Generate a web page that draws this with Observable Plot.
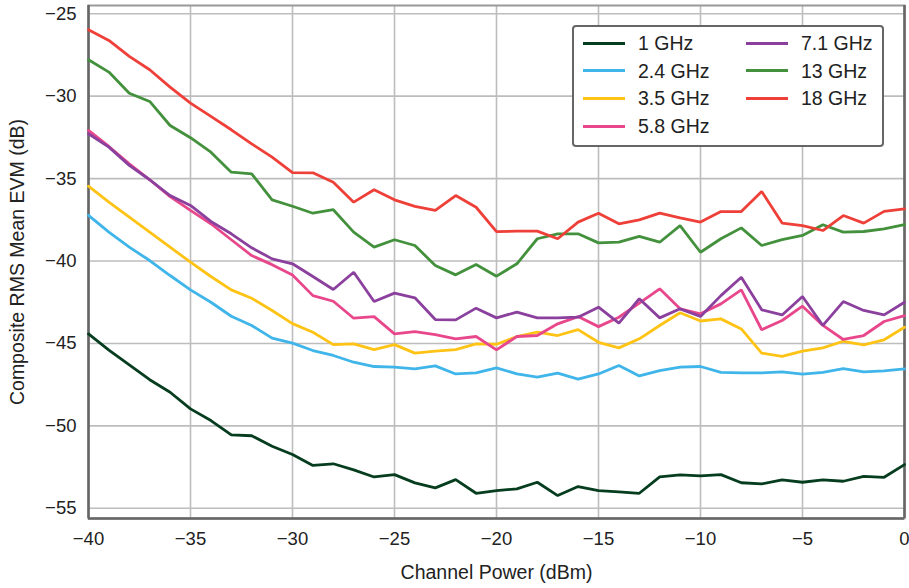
<!DOCTYPE html>
<html><head><meta charset="utf-8">
<script src="https://cdn.jsdelivr.net/npm/d3@7"></script>
<script src="https://cdn.jsdelivr.net/npm/@observablehq/plot@0.6"></script>
<style>
body{margin:0;background:#fff;font-family:"Liberation Sans",Arial,sans-serif;}
#wrap{position:relative;width:909px;height:588px;}
#wrap svg{overflow:visible;}
#legend{position:absolute;left:572px;top:25px;width:312px;height:122px;border:2px solid #666;border-radius:4px;background:#fff;box-sizing:border-box;}
.item{position:absolute;height:20px;font-size:19.5px;color:#222;line-height:20px;white-space:nowrap;}
.sw{position:absolute;left:0;top:8.5px;width:42px;height:3px;}
.lb{position:absolute;left:55px;top:0;}
g[aria-label="x-axis label"], g[aria-label="y-axis label"]{font-size:19.5px;}
</style></head>
<body><div id="wrap"><div id="legend"></div></div>
<script>
const xs = [-40,-39,-38,-37,-36,-35,-34,-33,-32,-31,-30,-29,-28,-27,-26,-25,-24,-23,-22,-21,-20,-19,-18,-17,-16,-15,-14,-13,-12,-11,-10,-9,-8,-7,-6,-5,-4,-3,-2,-1,0];
const names = ["1 GHz","2.4 GHz","3.5 GHz","5.8 GHz","7.1 GHz","13 GHz","18 GHz"];
const colors = ["#063d1f","#3fb5ea","#fec315","#e8478c","#8b409e","#43913c","#ee4039"];
const g1 = [-44.42,-45.4,-46.3,-47.2,-47.96,-48.97,-49.68,-50.55,-50.6,-51.24,-51.74,-52.4,-52.3,-52.67,-53.1,-52.96,-53.46,-53.76,-53.26,-54.09,-53.93,-53.82,-53.42,-54.23,-53.68,-53.93,-54.0,-54.09,-53.1,-52.97,-53.03,-52.96,-53.45,-53.52,-53.28,-53.42,-53.28,-53.36,-53.06,-53.12,-52.35];
const g24 = [-37.23,-38.25,-39.16,-39.97,-40.88,-41.75,-42.5,-43.35,-43.91,-44.68,-44.98,-45.43,-45.73,-46.14,-46.4,-46.44,-46.54,-46.36,-46.85,-46.79,-46.48,-46.85,-47.05,-46.8,-47.17,-46.85,-46.34,-46.97,-46.65,-46.44,-46.4,-46.75,-46.79,-46.79,-46.72,-46.86,-46.75,-46.53,-46.72,-46.66,-46.54];
const g35 = [-35.46,-36.43,-37.34,-38.25,-39.16,-40.07,-40.94,-41.75,-42.26,-43.0,-43.8,-44.32,-45.07,-45.03,-45.37,-45.07,-45.59,-45.47,-45.37,-45.03,-45.05,-44.58,-44.32,-44.52,-44.16,-44.93,-45.27,-44.72,-43.91,-43.14,-43.64,-43.51,-44.12,-45.59,-45.78,-45.47,-45.27,-44.87,-45.09,-44.78,-44.02];
const g58 = [-32.08,-33.05,-34.1,-35.07,-36.09,-36.93,-37.74,-38.71,-39.67,-40.22,-40.85,-42.1,-42.44,-43.47,-43.37,-44.42,-44.28,-44.46,-44.72,-44.58,-45.39,-44.58,-44.52,-43.81,-43.37,-43.98,-43.41,-42.56,-41.69,-42.9,-43.2,-42.6,-41.75,-44.17,-43.61,-42.74,-43.91,-44.76,-44.52,-43.67,-43.31];
const g71 = [-32.28,-33.09,-34.2,-35.07,-36.03,-36.63,-37.6,-38.35,-39.2,-39.87,-40.17,-40.94,-41.73,-40.68,-42.46,-41.95,-42.23,-43.55,-43.57,-42.86,-43.45,-43.1,-43.45,-43.45,-43.41,-42.8,-43.77,-42.29,-43.45,-42.9,-43.36,-42.1,-40.98,-42.96,-43.27,-42.15,-43.91,-42.46,-43.0,-43.27,-42.5];
const g13 = [-27.79,-28.54,-29.82,-30.32,-31.78,-32.52,-33.4,-34.61,-34.71,-36.29,-36.68,-37.1,-36.89,-38.25,-39.16,-38.71,-39.06,-40.27,-40.84,-40.21,-40.92,-40.17,-38.65,-38.35,-38.35,-38.9,-38.86,-38.5,-38.86,-37.85,-39.47,-38.65,-37.99,-39.06,-38.7,-38.45,-37.8,-38.25,-38.21,-38.05,-37.8];
const g18 = [-25.97,-26.62,-27.59,-28.4,-29.45,-30.42,-31.23,-32.04,-32.89,-33.7,-34.64,-34.65,-35.22,-36.43,-35.68,-36.29,-36.69,-36.93,-36.03,-36.74,-38.22,-38.19,-38.19,-38.65,-37.64,-37.1,-37.74,-37.5,-37.1,-37.38,-37.64,-37.0,-37.0,-35.78,-37.7,-37.85,-38.15,-37.24,-37.7,-36.99,-36.84];
const xTicks = [-40,-35,-30,-25,-20,-15,-10,-5,0];
const yTicks = [-55,-50,-45,-40,-35,-30,-25];
const xDomain = [-40, 0];
const yDomain = [-55.62, -24.5];

const seriesVals = [g1,g24,g35,g58,g71,g13,g18];
const data = [];
seriesVals.forEach((vals, k) => vals.forEach((v, i) => data.push({x: xs[i], y: v, s: names[k]})));

const chart = Plot.plot({
  width: 909, height: 588,
  marginLeft: 88, marginRight: 5, marginTop: 5, marginBottom: 70,
  style: {fontFamily: "'Liberation Sans', Arial, sans-serif", fontSize: "18.5px", color: "#222", background: "#fff"},
  x: {domain: xDomain},
  y: {domain: yDomain},
  color: {domain: names, range: colors},
  marks: [
    Plot.gridX(xTicks, {stroke: "#bdbdbd", strokeOpacity: 1, strokeWidth: 1.6}),
    Plot.gridY(yTicks, {stroke: "#bdbdbd", strokeOpacity: 1, strokeWidth: 1.6}),
    Plot.frame({stroke: "#999", strokeWidth: 2}),
    Plot.ruleX([xDomain[0]], {stroke: "#666", strokeWidth: 2.5}),
    Plot.ruleX([xDomain[1]], {stroke: "#666", strokeWidth: 2.5}),
    Plot.ruleY([yDomain[0]], {stroke: "#666", strokeWidth: 2.5}),
    Plot.axisX(xTicks, {tickSize: 0, tickPadding: 13, label: "Channel Power (dBm)", labelAnchor: "center", labelArrow: "none", labelOffset: 60, fontSize: 18.5}),
    Plot.axisY(yTicks, {tickSize: 0, tickPadding: 12, label: "Composite RMS Mean EVM (dB)", labelAnchor: "center", labelArrow: "none", labelOffset: 78, fontSize: 18.5}),
    Plot.line(data, {x: "x", y: "y", z: "s", stroke: "s", strokeWidth: 2.8, strokeLinejoin: "miter"})
  ]
});
document.getElementById("wrap").prepend(chart);

const legend = document.getElementById("legend");
names.forEach((n, k) => {
  const col = k < 4 ? 0 : 1;
  const row = k < 4 ? k : k - 4;
  const it = document.createElement("div");
  it.className = "item";
  it.style.left = (col === 0 ? 9 : 172) + "px";
  it.style.top = (6 + row * 27.7) + "px";
  it.innerHTML = `<div class="sw" style="background:${colors[k]}"></div><div class="lb">${n}</div>`;
  legend.appendChild(it);
});
</script></body></html>
